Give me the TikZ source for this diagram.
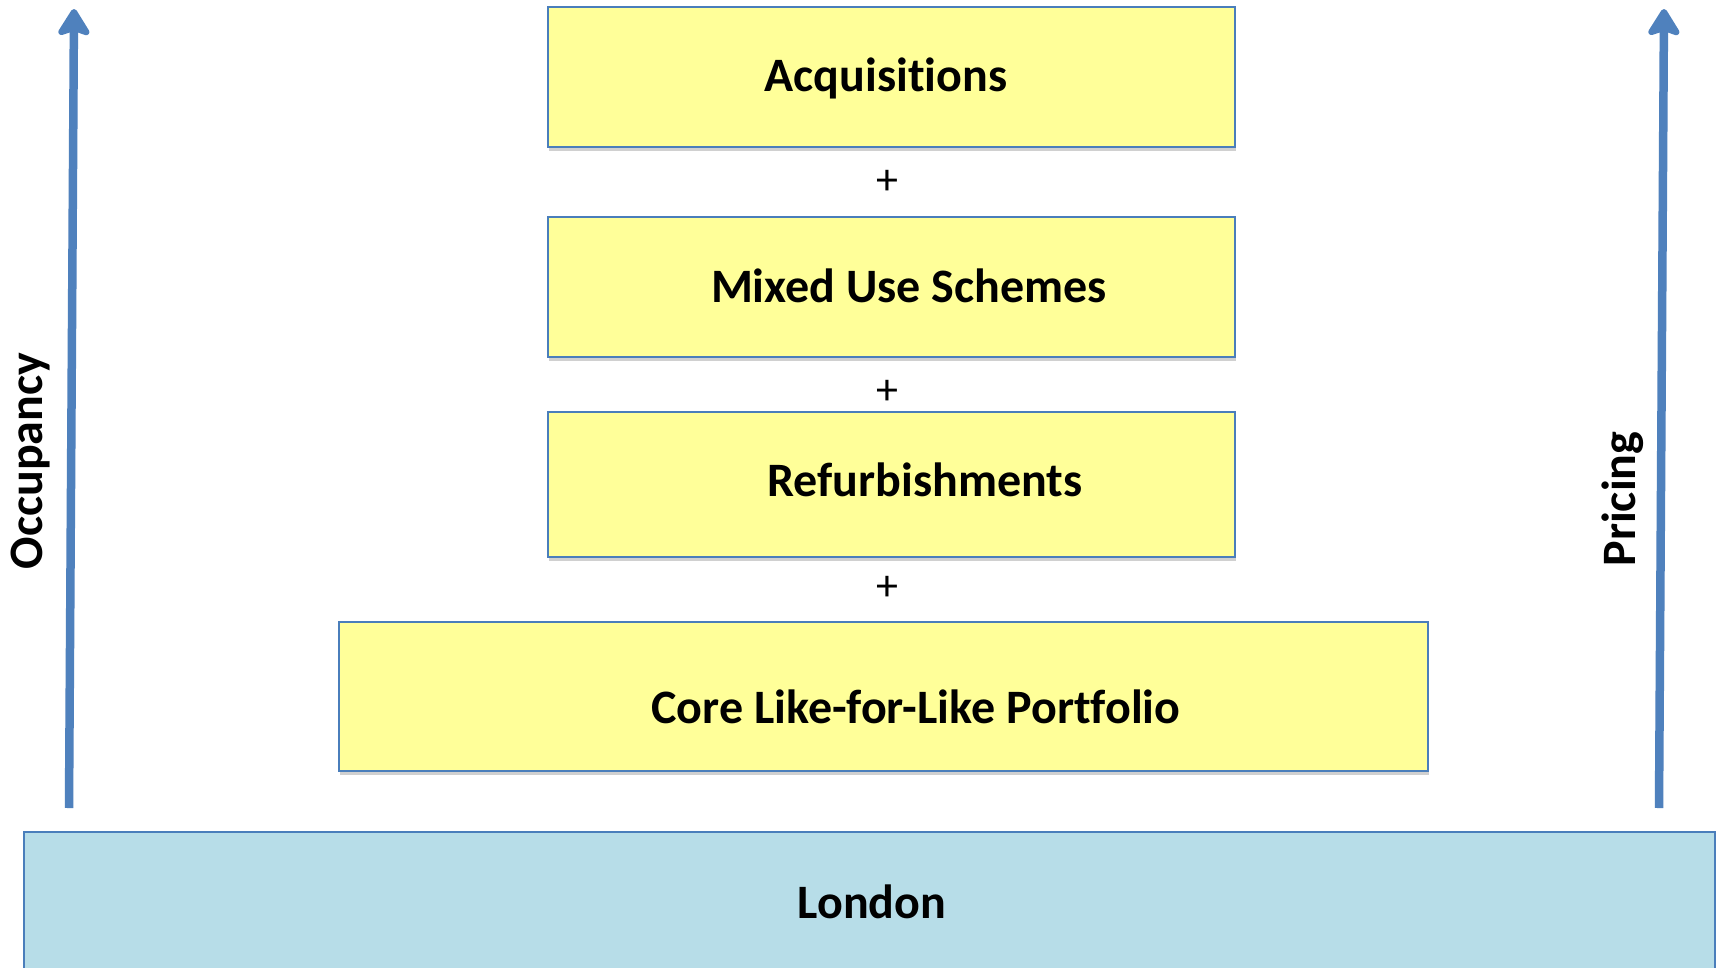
\documentclass[tikz,border=0pt]{standalone}
\usepackage{fontspec}
\setmainfont{Carlito}[Ligatures={NoCommon}]
\usetikzlibrary{arrows.meta,shadows}

\definecolor{edgeblue}{HTML}{4A7EBB}
\definecolor{arrowblue}{HTML}{4F81BD}
\definecolor{tierfill}{HTML}{FFFF99}
\definecolor{basefill}{HTML}{B7DDE8}

\tikzset{
  tier/.style={draw=edgeblue, line width=2pt, fill=tierfill, inner sep=0pt,
    drop shadow={shadow xshift=1pt, shadow yshift=-3.5pt, opacity=0.3, fill=black!60}},
  basebox/.style={draw=edgeblue, line width=2pt, fill=basefill, inner sep=0pt},
  title/.style={font=\fontsize{48}{52}\selectfont\bfseries, anchor=base, inner sep=0pt},
  plus/.style={font=\fontsize{44}{48}\selectfont, inner sep=0pt},
  axislabel/.style={font=\fontsize{48}{52}\selectfont\bfseries, rotate=90, inner sep=0pt},
  growth/.style={draw=arrowblue, line width=8.5pt,
    -{Stealth[length=31pt, width=38pt, inset=6pt, round]}}
}

\begin{document}
\begin{tikzpicture}[x=1pt, y=-1pt]
  \clip (0,0) rectangle (1717,967);
  \fill[white] (0,0) rectangle (1717,967);

  % stacked tiers
  \node[tier, minimum width=687pt, minimum height=140pt] (acq) at (891.5,77) {};
  \node[tier, minimum width=687pt, minimum height=140pt] (mix) at (891.5,287) {};
  \node[tier, minimum width=687pt, minimum height=145pt] (ref) at (891.5,484.5) {};
  \node[tier, minimum width=1089pt, minimum height=149pt] (core) at (883.5,696.5) {};

  % base layer running off the bottom edge
  \node[basebox, minimum width=1691pt, minimum height=160pt] (london) at (869.5,912) {};

  % tier captions
  \node[title] (acqt) at (886,91) {Acquisitions};
  \node[title] (mixt) at (909,302) {Mixed Use Schemes};
  \node[title] (reft) at (925,496) {Refurbishments};
  \node[title] (coret) at (916,723) {Core Like-for-Like Portfolio};
  \node[title] (londont) at (872,918) {London};

  % plus signs between tiers
  \node[plus] (p1) at (887,182) {+};
  \node[plus] (p2) at (887,392) {+};
  \node[plus] (p3) at (887,588) {+};

  % side axes
  \coordinate (occlow) at (69,808);
  \coordinate (occhigh) at (74,9);
  \coordinate (prlow) at (1659,808);
  \coordinate (prhigh) at (1664,9);
  \draw[growth] (occlow) -- (occhigh);
  \draw[growth] (prlow) -- (prhigh);

  \node[axislabel] (occ) at (31,461) {Occupancy};
  \node[axislabel] (pr) at (1623,499) {Pricing};
\end{tikzpicture}
\end{document}
